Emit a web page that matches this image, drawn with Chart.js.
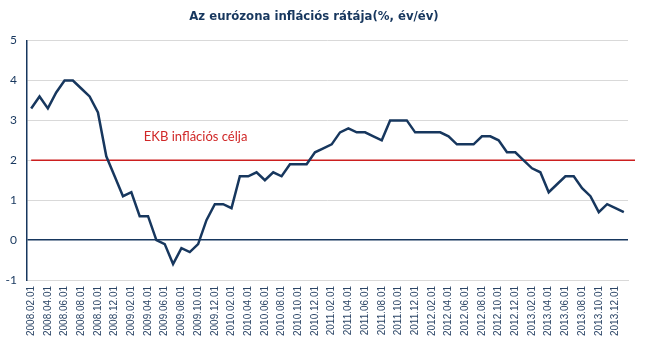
<!DOCTYPE html>
<html>
<head>
<meta charset="utf-8">
<script src="https://cdn.jsdelivr.net/npm/chart.js@4/dist/chart.umd.min.js"></script>
<style>
  html, body { margin: 0; padding: 0; background: #fff; }
  #wrap { width: 645px; height: 354px; position: relative; }
</style>
</head>
<body>
<div id="wrap"><canvas id="inflChart" width="645" height="354"></canvas></div>
<script>
// months, Feb 2008 - Jan 2014
const months = [
  "2008.02.01","2008.03.01","2008.04.01","2008.05.01","2008.06.01","2008.07.01","2008.08.01","2008.09.01","2008.10.01","2008.11.01","2008.12.01",
  "2009.01.01","2009.02.01","2009.03.01","2009.04.01","2009.05.01","2009.06.01","2009.07.01","2009.08.01","2009.09.01","2009.10.01","2009.11.01","2009.12.01",
  "2010.01.01","2010.02.01","2010.03.01","2010.04.01","2010.05.01","2010.06.01","2010.07.01","2010.08.01","2010.09.01","2010.10.01","2010.11.01","2010.12.01",
  "2011.01.01","2011.02.01","2011.03.01","2011.04.01","2011.05.01","2011.06.01","2011.07.01","2011.08.01","2011.09.01","2011.10.01","2011.11.01","2011.12.01",
  "2012.01.01","2012.02.01","2012.03.01","2012.04.01","2012.05.01","2012.06.01","2012.07.01","2012.08.01","2012.09.01","2012.10.01","2012.11.01","2012.12.01",
  "2013.01.01","2013.02.01","2013.03.01","2013.04.01","2013.05.01","2013.06.01","2013.07.01","2013.08.01","2013.09.01","2013.10.01","2013.11.01","2013.12.01",
  "2014.01.01"
];
const inflation = [
  3.3, 3.6, 3.3, 3.7, 4.0, 4.0, 3.8, 3.6, 3.2, 2.1, 1.6,
  1.1, 1.2, 0.6, 0.6, 0.0, -0.1, -0.6, -0.2, -0.3, -0.1, 0.5, 0.9,
  0.9, 0.8, 1.6, 1.6, 1.7, 1.5, 1.7, 1.6, 1.9, 1.9, 1.9, 2.2,
  2.3, 2.4, 2.7, 2.8, 2.7, 2.7, 2.6, 2.5, 3.0, 3.0, 3.0, 2.7,
  2.7, 2.7, 2.7, 2.6, 2.4, 2.4, 2.4, 2.6, 2.6, 2.5, 2.2, 2.2,
  2.0, 1.8, 1.7, 1.2, 1.4, 1.6, 1.6, 1.3, 1.1, 0.7, 0.9, 0.8,
  0.7
];
const yTicks = [-1, 0, 1, 2, 3, 4, 5];
const ecbTarget = 2;
const ecbLabel = "EKB inflációs célja";

const navy = "#17375e";

// red target line + its label, drawn under the series
const targetLine = {
  id: "targetLine",
  beforeDatasetsDraw(chart) {
    const ctx = chart.ctx;
    const x = chart.scales.x, y = chart.scales.y;
    const yy = y.getPixelForValue(ecbTarget);
    ctx.save();
    ctx.strokeStyle = "#cc1f1f";
    ctx.lineWidth = 1.5;
    ctx.beginPath();
    ctx.moveTo(x.getPixelForValue(0), yy);
    ctx.lineTo(chart.chartArea.right + 7, yy);
    ctx.stroke();
    ctx.fillStyle = "#d02828";
    ctx.font = "13px Lato";
    ctx.textBaseline = "middle";
    ctx.fillText(ecbLabel, x.getPixelForValue(13.5), y.getPixelForValue(2.6));
    ctx.restore();
  }
};

const config = {
  type: "line",
  data: {
    labels: months,
    datasets: [
      {
        data: inflation,
        borderColor: navy,
        borderWidth: 2.5,
        pointRadius: 0,
        tension: 0,
        fill: false,
      },
    ],
  },
  options: {
    responsive: false,
    animation: false,
    layout: { padding: { right: 17 } },
    plugins: {
      legend: { display: false },
      tooltip: { enabled: false },
      title: {
        display: true,
        text: "Az eurózona inflációs rátája(%, év/év)",
        color: navy,
        font: { family: "'DejaVu Sans Condensed', 'DejaVu Sans'", size: 13, weight: "bold" },
        padding: { top: 9, bottom: 16 },
      },
    },
    scales: {
      x: {
        offset: true,
        grid: { display: false, drawTicks: false },
        border: { color: "#d9d9d9", width: 1 },
        ticks: {
          autoSkip: false,
          maxRotation: 90,
          minRotation: 90,
          padding: 6,
          color: "#2b4566",
          font: { family: "Liberation Sans", size: 10 },
          callback: function (value, index) {
            return index % 2 === 0 ? months[index] : "";
          },
        },
        afterFit: (scale) => { scale.height = 74; },
      },
      y: {
        min: yTicks[0],
        max: yTicks[yTicks.length - 1],
        afterBuildTicks: (scale) => { scale.ticks = yTicks.map((v) => ({ value: v })); },
        grid: {
          drawTicks: false,
          color: (c) => (c.tick && c.tick.value === 0 ? navy : "#d9d9d9"),
          lineWidth: (c) => (c.tick && c.tick.value === 0 ? 1.5 : 1),
        },
        border: { color: navy, width: 1.5 },
        ticks: {
          padding: 10,
          color: navy,
          font: { family: "Lato", size: 12 },
        },
        afterFit: (scale) => { scale.width = 27; },
      },
    },
  },
  plugins: [targetLine],
};

window.onload = function () {
  const ctx = document.getElementById("inflChart").getContext("2d");
  window.inflChart = new Chart(ctx, config);
};
</script>
</body>
</html>
